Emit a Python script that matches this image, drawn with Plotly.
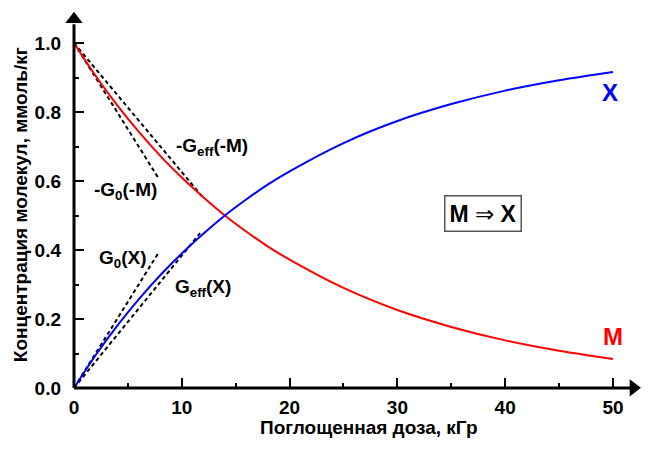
import plotly.graph_objects as go

# Data
dose = [0, 2, 4, 6, 8, 10, 12, 14, 16, 18, 20, 25, 30, 35, 40, 45, 50]
conc_M = [1.0, 0.905, 0.82, 0.743, 0.673, 0.61, 0.553, 0.50, 0.453, 0.41, 0.372,
          0.29, 0.226, 0.177, 0.138, 0.108, 0.084]
conc_X = [0.0, 0.095, 0.18, 0.257, 0.327, 0.39, 0.447, 0.50, 0.547, 0.59, 0.628,
          0.71, 0.774, 0.823, 0.862, 0.892, 0.916]

# tangent lines (start, end)
g0_M_x = [0, 7.8]
g0_M_y = [1.0, 0.61]
geff_M_x = [0, 12.0]
geff_M_y = [1.0, 0.551]
g0_X_x = [0, 7.8]
g0_X_y = [0.0, 0.39]
geff_X_x = [0, 11.7]
geff_X_y = [0.0, 0.449]

x_ticks = [0, 10, 20, 30, 40, 50]
y_ticks = [0.0, 0.2, 0.4, 0.6, 0.8, 1.0]

FONT = "Liberation Sans, Arial, sans-serif"
X_MAX = 52.6
Y_MAX = 1.087

fig = go.Figure()
dash = "4px,3px"
for xs, ys in [(g0_M_x, g0_M_y), (geff_M_x, geff_M_y), (g0_X_x, g0_X_y), (geff_X_x, geff_X_y)]:
    fig.add_trace(go.Scatter(x=xs, y=ys, mode="lines",
                             line=dict(color="black", width=2, dash=dash),
                             showlegend=False, hoverinfo="skip"))
fig.add_trace(go.Scatter(x=dose, y=conc_M, mode="lines", line=dict(color="#ff0000", width=2, shape="spline"),
                         showlegend=False))
fig.add_trace(go.Scatter(x=dose, y=conc_X, mode="lines", line=dict(color="#0000ff", width=2, shape="spline"),
                         showlegend=False))

# arrow heads of the axes
fig.add_trace(go.Scatter(x=[X_MAX - 0.7], y=[0.0005], mode="markers", cliponaxis=False,
                         marker=dict(symbol="triangle-right", size=15, color="black"),
                         showlegend=False, hoverinfo="skip"))
fig.add_trace(go.Scatter(x=[0], y=[Y_MAX - 0.018], mode="markers", cliponaxis=False,
                         marker=dict(symbol="triangle-up", size=15, color="black"),
                         showlegend=False, hoverinfo="skip"))

tickfont = dict(family=FONT, size=19, color="black")
fig.update_xaxes(range=[0, X_MAX], tickvals=x_ticks, ticktext=[f"<b>{v}</b>" for v in x_ticks],
                 ticks="inside", ticklen=10, tickwidth=2, automargin=False,
                 tickcolor="black", showgrid=False, zeroline=False, showline=False,
                 tickfont=tickfont, ticklabelstandoff=6,
                 minor=dict(ticks="inside", ticklen=5, tickwidth=2, tickcolor="black", dtick=5, tick0=0))
fig.update_yaxes(range=[0, Y_MAX], tickvals=y_ticks, ticktext=[f"<b>{v:.1f}</b>" for v in y_ticks],
                 ticks="inside", ticklen=10, automargin=False,
                 tickwidth=2, tickcolor="black", showgrid=False, zeroline=False, showline=False,
                 tickfont=tickfont, ticklabelstandoff=12,
                 minor=dict(ticks="inside", ticklen=5, tickwidth=2, tickcolor="black", dtick=0.1, tick0=0))

# axis lines
fig.add_shape(type="line", xref="paper", yref="paper", x0=0, y0=0, x1=0.985, y1=0,
              line=dict(color="black", width=3))
fig.add_shape(type="line", xref="paper", yref="paper", x0=0, y0=0, x1=0, y1=0.97,
              line=dict(color="black", width=3))

lab = dict(family=FONT, size=19, color="black")
def note(text, x, y, font, **kw):
    fig.add_annotation(text=text, x=x, y=y, xref="x", yref="y", showarrow=False, font=font,
                       xanchor="center", yanchor="middle", **kw)

note("<b>-G<sub>eff</sub>(-M)</b>", 12.8, 0.70, lab)
note("<b>-G<sub>0</sub>(-M)</b>", 4.75, 0.57, lab)
note("<b>G<sub>0</sub>(X)</b>", 4.5, 0.375, lab)
note("<b>G<sub>eff</sub>(X)</b>", 12.0, 0.29, lab)
note("<b>X</b>", 49.7, 0.858, dict(family=FONT, size=24, color="#0000ff"))
note("<b>M</b>", 50.0, 0.148, dict(family=FONT, size=24, color="#ff0000"))
note("<b>M</b> ⇒ <b>X</b>", 37.9, 0.507, dict(family=FONT, size=23, color="black"),
     bordercolor="#555555", borderwidth=1.5, borderpad=4, bgcolor="white")

fig.add_annotation(text="<b>Поглощенная доза, кГр</b>", xref="paper", yref="paper",
                   x=0.52, y=-0.104, xanchor="center", yanchor="middle", showarrow=False,
                   font=dict(family=FONT, size=19, color="black"))
fig.add_annotation(text="<b>Концентрация молекул, ммоль/кг</b>", xref="paper", yref="paper",
                   x=-0.095, y=0.488, xanchor="center", yanchor="middle", textangle=-90, showarrow=False,
                   font=dict(family=FONT, size=19, color="black"))

# the page body adds an 8px offset; everything is kept inside the visible window area
fig.update_layout(width=641, height=432, margin=dict(l=66, r=8, t=5, b=52),
                  plot_bgcolor="white", paper_bgcolor="white", showlegend=False)

fig.write_html("out.html")
